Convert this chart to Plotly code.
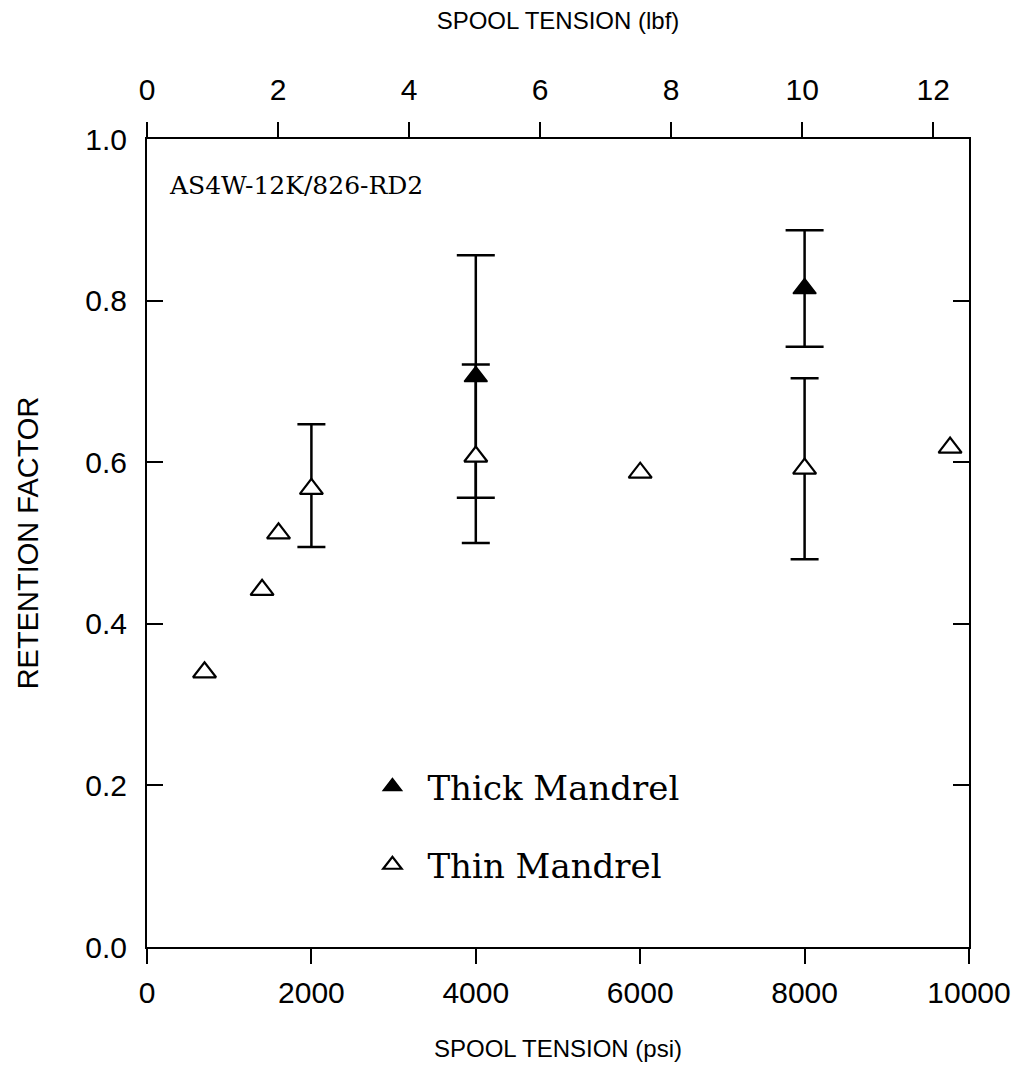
import plotly.graph_objects as go

# Data
thin_x = [700, 1400, 1600, 2000, 4000, 6000, 8000, 9770]
thin_y = [0.340, 0.442, 0.512, 0.567, 0.607, 0.587, 0.592, 0.618]
thin_err_x = [2000, 4000, 8000]
thin_err_y = [0.567, 0.607, 0.592]
thin_err_plus = [0.080, 0.114, 0.112]
thin_err_minus = [0.072, 0.107, 0.112]

thick_x = [4000, 8000]
thick_y = [0.706, 0.815]
thick_err_plus = [0.150, 0.072]
thick_err_minus = [0.150, 0.072]

x_ticks = [0, 2000, 4000, 6000, 8000, 10000]
x_tick_text = ["0", "2000", "4000", "6000", "8000", "10000"]
y_ticks = [0.0, 0.2, 0.4, 0.6, 0.8, 1.0]
lbf_ticks = [0, 2, 4, 6, 8, 10, 12]
psi_per_lbf = 797

fig = go.Figure()

# error bars (drawn first so markers sit on top)
fig.add_trace(go.Scatter(
    x=thin_err_x, y=thin_err_y, mode="markers",
    marker=dict(size=1, color="rgba(0,0,0,0)"),
    error_y=dict(type="data", array=thin_err_plus, arrayminus=thin_err_minus,
                 color="black", thickness=2.5, width=14),
    showlegend=False, hoverinfo="skip"))
fig.add_trace(go.Scatter(
    x=thick_x, y=thick_y, mode="markers",
    marker=dict(size=1, color="rgba(0,0,0,0)"),
    error_y=dict(type="data", array=thick_err_plus, arrayminus=thick_err_minus,
                 color="black", thickness=2.5, width=19),
    showlegend=False, hoverinfo="skip"))

fig.add_trace(go.Scatter(
    x=thick_x, y=thick_y, mode="markers", name="Thick Mandrel",
    legendgroup="a",
    marker=dict(symbol="triangle-up", size=20, color="black",
                line=dict(color="black", width=1.5))))
fig.add_trace(go.Scatter(
    x=thin_x, y=thin_y, mode="markers", name="Thin Mandrel",
    legendgroup="b",
    marker=dict(symbol="triangle-up", size=20, color="white",
                line=dict(color="black", width=2.2))))

# dummy trace on the top axis so it renders
fig.add_trace(go.Scatter(x=[0, 10000 / psi_per_lbf], y=[None, None], xaxis="x2",
                         mode="markers", showlegend=False, hoverinfo="skip"))

tick_font = dict(family="Liberation Sans, Arial, sans-serif", size=30, color="black")
title_font = dict(family="Liberation Sans, Arial, sans-serif", size=24, color="black")
ytitle_font = dict(family="Liberation Sans, Arial, sans-serif", size=29, color="black")
serif = "DejaVu Serif, Liberation Serif, serif"

fig.update_layout(
    width=1028, height=1084,
    margin=dict(l=147, r=59, t=139, b=137),
    paper_bgcolor="white", plot_bgcolor="white",
    showlegend=True,
    legend=dict(x=0.256, y=0.234, xanchor="left", yanchor="top",
                font=dict(family=serif, size=34, color="black"),
                bgcolor="rgba(0,0,0,0)", tracegroupgap=31, traceorder="grouped",
                itemwidth=60),
    xaxis=dict(range=[0, 10000], tickvals=x_ticks, ticktext=x_tick_text,
               ticks="outside", ticklen=15,
               tickwidth=2, tickcolor="black", showline=True, linecolor="black",
               linewidth=2, showgrid=False, zeroline=False, tickfont=tick_font,
               mirror=False, ticklabelstandoff=3,
               title=dict(text="SPOOL TENSION (psi)", font=title_font, standoff=32)),
    xaxis2=dict(range=[0, 10000 / psi_per_lbf], overlaying="x", side="top",
                anchor="y", tickvals=lbf_ticks, ticks="outside", ticklen=15,
                tickwidth=2, tickcolor="black", showline=True, linecolor="black",
                linewidth=2, showgrid=False, zeroline=False, tickfont=tick_font,
                ticklabelstandoff=10,
                title=dict(text="SPOOL TENSION (lbf)", font=title_font, standoff=37)),
    yaxis=dict(range=[0, 1.0], tickvals=y_ticks, tickformat=".1f", ticks="inside",
               ticklen=16, tickwidth=2, tickcolor="black", showline=True,
               linecolor="black", linewidth=2, mirror="ticks", showgrid=False,
               zeroline=False, tickfont=tick_font, ticklabelstandoff=12,
               title=dict(text="RETENTION FACTOR", font=ytitle_font, standoff=38)),
    annotations=[dict(text="AS4W-12K/826-RD2", xref="paper", yref="paper",
                      x=0.024, y=0.943, xanchor="left", yanchor="middle",
                      showarrow=False,
                      font=dict(family=serif, size=25, color="black"))],
)

fig.write_html("out.html")
